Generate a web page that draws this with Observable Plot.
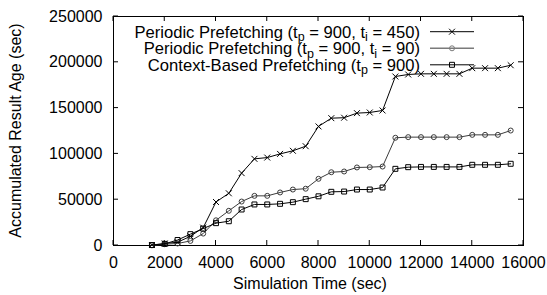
<!DOCTYPE html>
<html>
<head>
<meta charset="utf-8">
<script src="https://cdn.jsdelivr.net/npm/d3@7"></script>
<script src="https://cdn.jsdelivr.net/npm/@observablehq/plot@0.6"></script>
<style>
  html, body { margin: 0; padding: 0; background: white; }
</style>
</head>
<body>
<div id="chart"></div>
<script>
const simTime = [1500, 2000, 2500, 3000, 3500, 4000, 4500, 5000, 5500, 6000, 6500, 7000, 7500, 8000, 8500, 9000, 9500, 10000, 10500, 11000, 11500, 12000, 12500, 13000, 13500, 14000, 14500, 15000, 15500];
const periodic450 = [500, 2200, 3600, 10000, 19500, 47500, 57000, 79000, 94600, 96000, 100000, 103400, 108400, 130000, 139000, 139500, 144500, 145200, 147400, 184500, 186700, 187400, 187400, 187400, 187400, 193600, 193600, 193600, 196800];
const periodic90 = [200, 1400, 2200, 5000, 13000, 27500, 37900, 48000, 54200, 54200, 57900, 61100, 62000, 72800, 80000, 80800, 85200, 85500, 86200, 117600, 118300, 118300, 118300, 118300, 118300, 120800, 120800, 120800, 125500];
const contextBased = [500, 1800, 6000, 12400, 18500, 24400, 26500, 39300, 44800, 44800, 45500, 47300, 50600, 53700, 58600, 58900, 61100, 61100, 63300, 83700, 85500, 85800, 85800, 85800, 85800, 88100, 88100, 88100, 89200];
const xTicks = [0, 2000, 4000, 6000, 8000, 10000, 12000, 14000, 16000];
const yTicks = [0, 50000, 100000, 150000, 200000, 250000];
const seriesNames = ["Periodic Prefetching (t_p = 900, t_i = 450)", "Periodic Prefetching (t_p = 900, t_i = 90)", "Context-Based Prefetching (t_p = 900)"];
const seriesColors = ["#000000", "#3c3c3c", "#000000"];
const legendColors = ["#000000", "#7a7a7a", "#000000"];
const seriesSymbols = ["times", "circle", "square"];
const seriesR = [2.8, 2.5, 2.8];
const xLabel = "Simulation Time (sec)";
const yLabel = "Accumulated Result Age (sec)";

(function () {
const allSeries = [periodic450, periodic90, contextBased];
const table = [];
allSeries.forEach((vals, s) => vals.forEach((v, i) => table.push({series: s, t: simTime[i], age: v})));

const font = "'Liberation Sans', Arial, Helvetica, sans-serif";
const marks = [
  Plot.frame({stroke: "black", strokeWidth: 1}),
  Plot.axisX(xTicks, {tickSize: 0, tickPadding: 11, tickFormat: d3.format("d"), label: null}),
  Plot.axisY(yTicks, {tickSize: 0, tickPadding: 11, tickFormat: d3.format("d"), label: null})
];
allSeries.forEach((vals, s) => {
  const rows = table.filter(d => d.series === s);
  marks.push(Plot.line(rows, {x: "t", y: "age", stroke: seriesColors[s], strokeWidth: 1}));
  marks.push(Plot.dot(rows, {x: "t", y: "age", symbol: seriesSymbols[s], r: seriesR[s], stroke: seriesColors[s], strokeWidth: 1, fill: "none"}));
});

const plot = Plot.plot({
  width: 547,
  height: 295,
  marginLeft: 113,
  marginRight: 24,
  marginTop: 16,
  marginBottom: 50,
  style: {fontFamily: font, fontSize: "16px", background: "white", color: "black", overflow: "visible"},
  x: {domain: [0, 16000], ticks: xTicks},
  y: {domain: [0, 250000], ticks: yTicks},
  marks
});
document.getElementById("chart").appendChild(plot);

const sx = plot.scale("x"), sy = plot.scale("y");
const svg = d3.select(plot);
const tickLen = 5;
const yTop = sy.apply(250000), yBottom = sy.apply(0), xLeft = sx.apply(0), xRight = sx.apply(16000);

// axis titles
svg.append("text").attr("x", (xLeft + xRight) / 2 - 8).attr("y", 289)
  .attr("text-anchor", "middle").attr("font-family", font).attr("font-size", 16).attr("fill", "black").text(xLabel);
svg.append("text").attr("transform", `translate(15,${(yTop + yBottom) / 2}) rotate(-90)`).attr("dy", "0.35em")
  .attr("text-anchor", "middle").attr("font-family", font).attr("font-size", 16).attr("fill", "black").text(yLabel);

// inward tick marks on all four sides (gnuplot style), placed through Plot's scales
const tg = svg.append("g").attr("stroke", "black").attr("stroke-width", 1);
xTicks.forEach(t => {
  const x = sx.apply(t);
  tg.append("line").attr("x1", x).attr("x2", x).attr("y1", yBottom).attr("y2", yBottom - tickLen);
  tg.append("line").attr("x1", x).attr("x2", x).attr("y1", yTop).attr("y2", yTop + tickLen);
});
yTicks.forEach(t => {
  const y = sy.apply(t);
  tg.append("line").attr("x1", xLeft).attr("x2", xLeft + tickLen).attr("y1", y).attr("y2", y);
  tg.append("line").attr("x1", xRight).attr("x2", xRight - tickLen).attr("y1", y).attr("y2", y);
});

// legend (top right, inside frame)
const lg = svg.append("g").attr("font-family", font).attr("font-size", 16.6).attr("fill", "black");
const rowY = [31.7, 48.3, 64.8];
const textRight = 420, sampleX1 = 430, sampleX2 = 474;
const symbolMap = {times: d3.symbolTimes, circle: d3.symbolCircle, square: d3.symbolSquare};
seriesNames.forEach((name, s) => {
  const y = rowY[s];
  const txt = lg.append("text").attr("x", textRight).attr("y", y).attr("dy", "0.35em").attr("text-anchor", "end");
  const parts = name.split(/_(\w)/);
  parts.forEach((p, k) => {
    if (k % 2 === 0) {
      if (p.length) txt.append("tspan").attr("dy", k === 0 ? null : -3.5).text(p);
    } else {
      txt.append("tspan").attr("font-size", 12.5).attr("dy", 3.5).text(p);
    }
  });
  lg.append("line").attr("x1", sampleX1).attr("x2", sampleX2).attr("y1", y).attr("y2", y)
    .attr("stroke", legendColors[s]).attr("stroke-width", s === 1 ? 1.5 : 1);
  lg.append("path").attr("transform", `translate(${(sampleX1 + sampleX2) / 2},${y})`)
    .attr("d", d3.symbol(symbolMap[seriesSymbols[s]], Math.PI * seriesR[s] * seriesR[s])())
    .attr("fill", "none").attr("stroke", legendColors[s]).attr("stroke-width", 1);
});
})();
</script>
</body>
</html>
